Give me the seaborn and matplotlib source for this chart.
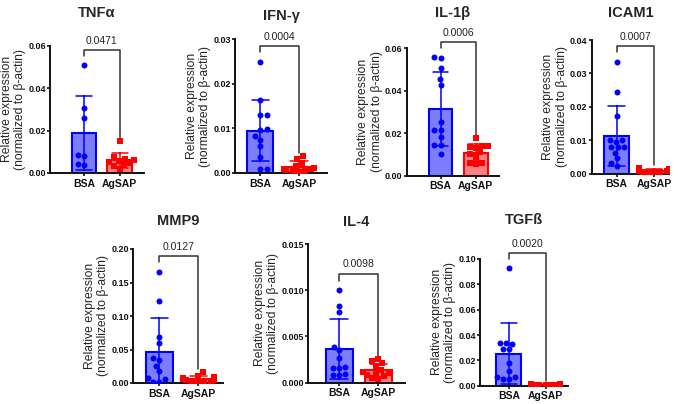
import warnings
import numpy as np
import pandas as pd
import matplotlib
matplotlib.use("Agg")
import matplotlib.pyplot as plt
from matplotlib.ticker import FormatStrFormatter
import seaborn as sns

# swarmplot complains when the near-zero points pile up; that's expected here
warnings.filterwarnings("ignore")

# --- DATA ---
GROUPS = ["BSA", "AgSAP"]
GENES = ["TNFα", "IFN-γ", "IL-1β", "ICAM1", "MMP9", "IL-4", "TGFß"]
P_VALUES = ["0.0471", "0.0004", "0.0006", "0.0007", "0.0127", "0.0098", "0.0020"]
Y_MAX = [0.06, 0.03, 0.06, 0.04, 0.20, 0.015, 0.10]
Y_STEP = [0.02, 0.01, 0.02, 0.01, 0.05, 0.005, 0.02]
Y_DECIMALS = [2, 2, 2, 2, 2, 3, 2]

tnfa_bsa = [0.0509, 0.0305, 0.0258, 0.0085, 0.0082, 0.0042, 0.0040]
tnfa_agsap = [0.0152, 0.0075, 0.0068, 0.0062, 0.0058, 0.0050, 0.0045, 0.0040, 0.0032, 0.0020]

ifng_bsa = [0.0250, 0.0164, 0.0130, 0.0130, 0.0098, 0.0096, 0.0082, 0.0075, 0.0060, 0.0037, 0.0010, 0.0010]
ifng_agsap = [0.0038, 0.0032, 0.0022, 0.0015, 0.0012, 0.0010, 0.0008, 0.0006, 0.0005, 0.0004, 0.0003]

il1b_bsa = [0.0558, 0.0555, 0.0506, 0.0455, 0.0427, 0.0251, 0.0215, 0.0215, 0.0184, 0.0145, 0.0145, 0.0102]
il1b_agsap = [0.0176, 0.0140, 0.0140, 0.0135, 0.0130, 0.0110, 0.0100, 0.0090, 0.0060, 0.0060, 0.0055]

icam1_bsa = [0.0335, 0.0245, 0.0173, 0.0101, 0.0101, 0.0096, 0.0079, 0.0079, 0.0079, 0.0063, 0.0046, 0.0031, 0.0023]
icam1_agsap = [0.0018, 0.0015, 0.0012, 0.0010, 0.0010, 0.0008, 0.0008, 0.0007, 0.0006, 0.0005, 0.0005, 0.0004]

mmp9_bsa = [0.166, 0.123, 0.069, 0.059, 0.037, 0.035, 0.025, 0.018, 0.007, 0.006, 0.002, 0.001]
mmp9_agsap = [0.017, 0.011, 0.009, 0.008, 0.007, 0.006, 0.005, 0.004, 0.003, 0.003, 0.002, 0.001]

il4_bsa = [0.0100, 0.0083, 0.0076, 0.0039, 0.0035, 0.0027, 0.0017, 0.0016, 0.0016, 0.0009, 0.0008, 0.0008]
il4_agsap = [0.0026, 0.0023, 0.0021, 0.0018, 0.0014, 0.0012, 0.0011, 0.0010, 0.0008, 0.0007, 0.0005, 0.0004]

tgfb_bsa = [0.0927, 0.0335, 0.0335, 0.0330, 0.0290, 0.0290, 0.0177, 0.0118, 0.0071, 0.0071, 0.0050, 0.0050]
tgfb_agsap = [0.0016, 0.0014, 0.0012, 0.0011, 0.0010, 0.0009, 0.0008, 0.0007, 0.0006, 0.0005, 0.0004, 0.0003]

SERIES = [
    (tnfa_bsa, tnfa_agsap), (ifng_bsa, ifng_agsap), (il1b_bsa, il1b_agsap),
    (icam1_bsa, icam1_agsap), (mmp9_bsa, mmp9_agsap), (il4_bsa, il4_agsap),
    (tgfb_bsa, tgfb_agsap),
]

# --- LAYOUT (pixel boxes: left, top, right, bottom) ---
W, H = 680, 404
PANEL_BOX = [
    (50, 45.7, 144, 173), (235, 39.3, 327, 173), (406.7, 48.3, 499, 175.7),
    (591.7, 40, 669, 173.7), (133.3, 249, 223.3, 383), (308.3, 244, 405, 382.7),
    (480, 259, 568.3, 385.7),
]
XLIM = [(-0.96, 1.69), (-0.66, 1.73), (-0.96, 1.66), (-0.67, 1.40),
        (-0.67, 1.64), (-0.79, 1.68), (-0.79, 1.62)]
TITLE_BASE = [16.7, 20, 16.7, 16.7, 225, 226, 224]

FILL = {"BSA": "#7d7dff", "AgSAP": "#ff8080"}
EDGE = {"BSA": "#0000ff", "AgSAP": "#ff0000"}
MARKER = {"BSA": "o", "AgSAP": "s"}

sns.set_style("ticks")
plt.rcParams["font.family"] = ["Liberation Sans", "DejaVu Sans"]

fig = plt.figure(figsize=(W / 100, H / 100), dpi=100)

for i, gene in enumerate(GENES):
    l, t, r, b = PANEL_BOX[i]
    ax = fig.add_axes([l / W, 1 - b / H, (r - l) / W, (b - t) / H])
    bsa, agsap = SERIES[i]
    df = pd.DataFrame({
        "group": ["BSA"] * len(bsa) + ["AgSAP"] * len(agsap),
        "value": bsa + agsap,
    })

    for g in GROUPS:
        sub = df[df["group"] == g]
        sns.barplot(data=sub, x="group", y="value", order=GROUPS, errorbar="sd",
                    capsize=0.45, width=0.68, color=FILL[g], saturation=1,
                    edgecolor=EDGE[g], linewidth=1.5,
                    err_kws={"color": EDGE[g], "linewidth": 1.1}, ax=ax)
        sns.swarmplot(data=sub, x="group", y="value", order=GROUPS,
                      color=EDGE[g], marker=MARKER[g], size=4.3, linewidth=0, ax=ax)

    ymax = Y_MAX[i]
    ax.set_ylim(0, ymax)
    ax.set_xlim(*XLIM[i])
    ax.set_yticks(np.arange(0, ymax + Y_STEP[i] / 2, Y_STEP[i]))
    ax.yaxis.set_major_formatter(FormatStrFormatter(f"%.{Y_DECIMALS[i]}f"))
    ax.set_xlabel("")
    ax.set_ylabel("Relative expression\n(normalized to β-actin)", fontsize=8.7,
                  linespacing=1.15, labelpad=1.5)
    sns.despine(ax=ax)
    for side in ["left", "bottom"]:
        ax.spines[side].set_linewidth(1.4)
        ax.spines[side].set_color("#111111")
    ax.tick_params(axis="both", length=2, width=1.2, pad=1, colors="#111111")
    ax.tick_params(axis="y", labelsize=6.5)
    ax.tick_params(axis="x", labelsize=7.5, pad=2)
    for lbl in ax.get_xticklabels() + ax.get_yticklabels():
        lbl.set_fontweight("bold")

    # significance bracket with p-value
    top = max(bsa) + 0.12 * ymax
    ax.plot([0, 0, 1, 1], [top - 0.05 * ymax, top, top, max(agsap) + 0.02 * ymax],
            color="#333333", lw=1.1, clip_on=False)
    ax.text(0.5, top + 0.03 * ymax, P_VALUES[i], ha="center", va="bottom",
            fontsize=7.5, color="#222222", clip_on=False)

    fig.text((l + r) / 2 / W, 1 - TITLE_BASE[i] / H, gene, ha="center",
             va="baseline", fontsize=10.5, fontweight="bold")

fig.savefig("out.png", dpi=100)
